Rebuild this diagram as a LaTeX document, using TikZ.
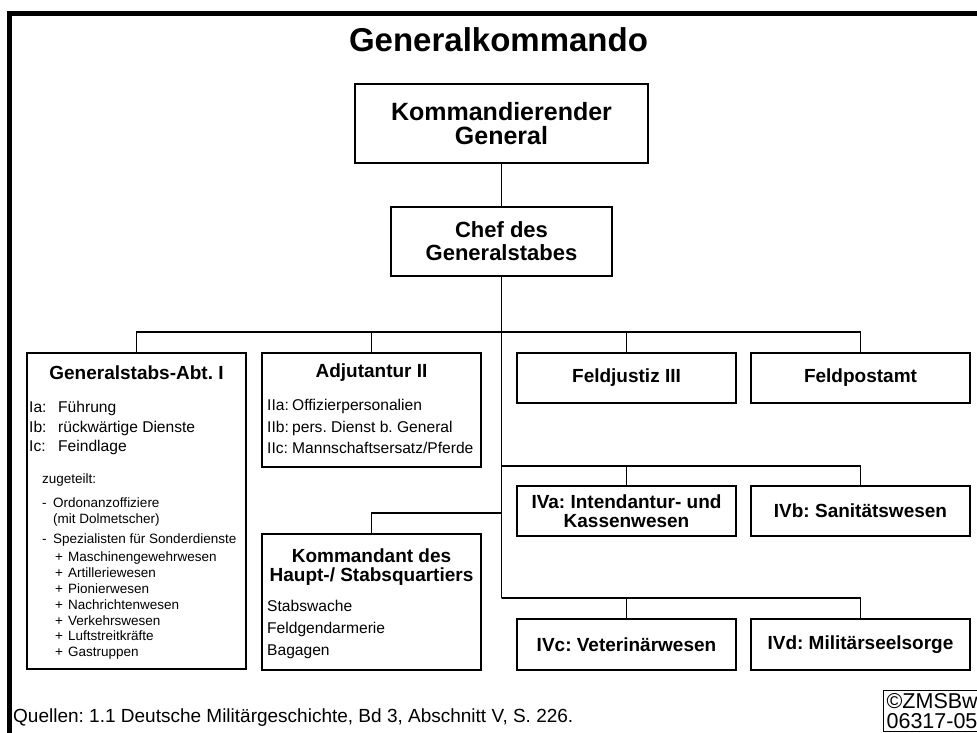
\documentclass[tikz,border=0pt]{standalone}
\usepackage{fontspec}
\setmainfont{Liberation Sans}
\frenchspacing

\newcommand{\fsz}[2]{\fontsize{#1}{#2}\selectfont}
\newcommand{\kurz}[2]{\makebox[#1][l]{#2}}

\tikzset{
    box/.style={draw, line width=1.5pt, inner sep=0pt, align=center,
        minimum width=219pt, minimum height=50pt, font=\fsz{19}{18.5}\bfseries},
    link/.style={line width=1.5pt},
    head/.style={inner sep=0pt, align=center, font=\fsz{19}{18.5}\bfseries},
    liste/.style={inner sep=0pt, align=left, anchor=north west, font=\fsz{15.6}{19.5}},
    klein/.style={inner sep=0pt, align=left, anchor=north west, font=\fsz{13.5}{15.8}},
}

\begin{document}
\begin{tikzpicture}[x=1pt, y=-1pt]
    \useasboundingbox (0,0) rectangle (977,733);
    \clip (0,0) rectangle (977,733);

    \draw[line width=5pt] (9.5,745) -- (9.5,13.5) -- (990,13.5);

    \node[anchor=base, inner sep=0pt, font=\fsz{33}{33}\bfseries] (titel) at (498.5,52) {Generalkommando};

    \node[box, minimum width=293pt, minimum height=79pt, font=\fsz{25}{24}\bfseries] (kg) at (501.5,123.5) {Kommandierender\\General};
    \node[box, minimum width=221pt, minimum height=69pt, font=\fsz{22}{23}\bfseries] (chef) at (501.5,241.5) {Chef des\\Generalstabes};

    \node[box, minimum height=316pt] (abt1) at (136.5,511) {};
    \node[box, minimum height=114pt] (adj) at (371.5,410) {};
    \node[box] (justiz) at (626.5,378) {Feldjustiz III};
    \node[box] (post) at (860.5,378) {Feldpostamt};

    \node[box] (iva) at (626.5,511) {IVa: Intendantur- und\\Kassenwesen};
    \node[box] (ivb) at (860.5,511) {IVb: Sanitätswesen};
    \node[box, minimum height=136pt] (kdt) at (371.5,602) {};
    \node[box, minimum height=51pt] (ivc) at (626.5,644.5) {IVc: Veterinärwesen};
    \node[box, minimum height=51pt] (ivd) at (860.5,644.5) {IVd: Militärseelsorge};

    % Generalstabs-Abt. I
    \node[head] (abt1kopf) at (136.5,373) {Generalstabs-Abt. I};
    \node[liste] (abt1liste) at (29,401) {\kurz{29pt}{Ia:}Führung\\\kurz{29pt}{Ib:}rückwärtige Dienste\\\kurz{29pt}{Ic:}Feindlage};
    \node[klein, anchor=base west] (zugeteilt) at (42,483) {zugeteilt:};
    \node[klein] (ordonanz) at (42,498) {\kurz{11pt}{-}Ordonanzoffiziere\\\hspace*{11pt}(mit Dolmetscher)};
    \node[klein, anchor=base west] (spezial) at (42,543) {\kurz{11pt}{-}Spezialisten für Sonderdienste};
    \node[klein] (waffen) at (55,552) {\kurz{13pt}{+}Maschinengewehrwesen\\\kurz{13pt}{+}Artilleriewesen\\\kurz{13pt}{+}Pionierwesen\\\kurz{13pt}{+}Nachrichtenwesen\\\kurz{13pt}{+}Verkehrswesen\\\kurz{13pt}{+}Luftstreitkräfte\\\kurz{13pt}{+}Gastruppen};

    % Adjutantur II
    \node[head] (adjkopf) at (371.5,373) {Adjutantur II};
    \node[liste, font=\fsz{15.6}{21.5}] (adjliste) at (267,399) {\kurz{25pt}{IIa:}Offizierpersonalien\\\kurz{25pt}{IIb:}pers. Dienst b. General\\\kurz{25pt}{IIc:}Mannschaftsersatz/Pferde};

    % Kommandant
    \node[head, anchor=north] (kdtkopf) at (371.5,549) {Kommandant des\\Haupt-/ Stabsquartiers};
    \node[liste, font=\fsz{15.6}{22}] (kdtliste) at (267,600) {Stabswache\\Feldgendarmerie\\Bagagen};

    % Verbindungen
    \coordinate (bus1) at (501.5,332);
    \coordinate (abzw) at (501.5,513);
    \coordinate (bus2) at (501.5,466);
    \coordinate (bus3) at (501.5,598);

    \draw[link] (kg) -- (chef);
    \draw[link] (chef) -- (bus3);
    \draw[link] (abt1.north) |- (bus1) -| (post.north);
    \draw[link] (adj.north) |- (bus1);
    \draw[link] (justiz.north) |- (bus1);
    \draw[link] (iva.north) |- (bus2) -| (ivb.north);
    \draw[link] (kdt.north) |- (abzw);
    \draw[link] (ivc.north) |- (bus3) -| (ivd.north);

    \node[anchor=base west, inner sep=0pt, font=\fsz{19}{19}] (quellen) at (13,722) {Quellen: 1.1 Deutsche Militärgeschichte, Bd 3, Abschnitt V, S. 226.};
    \node[draw, line width=1.2pt, anchor=north west, align=left, inner sep=3pt, font=\fsz{21.5}{19.5}] (zms) at (883,690) {©ZMSBw\\06317-05};
\end{tikzpicture}
\end{document}
